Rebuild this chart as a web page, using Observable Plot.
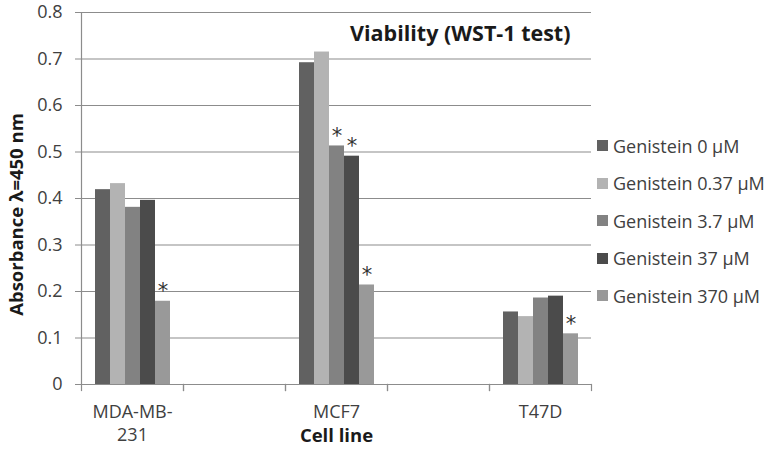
<!DOCTYPE html>
<html>
<head>
<meta charset="utf-8">
<script src="https://cdn.jsdelivr.net/npm/d3@7"></script>
<script src="https://cdn.jsdelivr.net/npm/@observablehq/plot@0.6"></script>
<style>
  body { margin: 0; background: #fff; }
  #chart { position: relative; width: 773px; height: 451px; font-family: "Open Sans", sans-serif; }
  #chart > svg { position: absolute; left: 0; top: 0; }
  #legend { position: absolute; left: 597px; top: 127px; }
  #legend .lg-swatch { height: 37.5px !important; padding: 0 !important; margin: 0 !important; display: flex; align-items: center; }
  #legend .lg-swatch svg { margin-right: 5px !important; }
</style>
</head>
<body>
<div id="chart"><div id="legend"></div></div>
<script>
// ---- data ----
const cellLines = ["MDA-MB-231", "MCF7", "T47D"];
const cellTickLabels = ["MDA-MB-\n231", "MCF7", "T47D"];
const spacers = ["gap1", "gap2"];
const concentrations = ["Genistein 0 µM", "Genistein 0.37 µM", "Genistein 3.7 µM", "Genistein 37 µM", "Genistein 370 µM"];
const mdaValues  = [0.419, 0.432, 0.381, 0.396, 0.179];
const mcf7Values = [0.692, 0.715, 0.513, 0.491, 0.214];
const t47dValues = [0.156, 0.146, 0.186, 0.190, 0.109];
const mdaSignificant  = [false, false, false, false, true];
const mcf7Significant = [false, false, true, true, true];
const t47dSignificant = [false, false, false, false, true];
const barColors = ["#616161", "#b3b3b3", "#828282", "#4b4b4b", "#999999"];
const yTicks = [0, 0.1, 0.2, 0.3, 0.4, 0.5, 0.6, 0.7, 0.8];
const yTickLabels = ["0", "0.1", "0.2", "0.3", "0.4", "0.5", "0.6", "0.7", "0.8"];
const title = "Viability (WST-1 test)";
const yLabel = "Absorbance λ=450 nm";
const xLabel = "Cell line";

// ---- tables built from arrays ----
const fxDomain = [cellLines[0], spacers[0], cellLines[1], spacers[1], cellLines[2]];
const valuesByCell = [mdaValues, mcf7Values, t47dValues];
const sigByCell = [mdaSignificant, mcf7Significant, t47dSignificant];
const rows = [];
cellLines.forEach((cell, i) => {
  concentrations.forEach((conc, j) => {
    rows.push({cell, conc, value: valuesByCell[i][j], sig: sigByCell[i][j]});
  });
});
const gridRows = [];
fxDomain.forEach(cell => yTicks.forEach(t => gridRows.push({cell, t})));
const tickLabelOf = new Map(cellLines.map((c, i) => [c, cellTickLabels[i]]));
const yLabelOf = new Map(yTicks.map((t, i) => [t, yTickLabels[i]]));

const axisGray = "#8c8c8c";
const textColor = "#404040";
const font = "'Open Sans', sans-serif";

const plot = Plot.plot({
  width: 773,
  height: 451,
  marginLeft: 81,
  marginRight: 182,
  marginTop: 12,
  marginBottom: 67,
  style: {fontFamily: font, fontSize: "18px", color: textColor, background: "transparent"},
  fx: {domain: fxDomain, padding: 0, label: null, axis: null},
  x: {domain: concentrations, paddingInner: 0, paddingOuter: 0.77, axis: null},
  y: {domain: [0, 0.8], axis: null},
  color: {domain: concentrations, range: barColors},
  marks: [
    Plot.ruleY(gridRows, {fx: "cell", y: "t", stroke: axisGray, strokeWidth: 1.2}),
    Plot.barY(rows, {fx: "cell", x: "conc", y: "value", fill: "conc"}),
    Plot.ruleY(gridRows.filter(d => d.t === 0), {fx: "cell", y: "t", stroke: axisGray, strokeWidth: 1.2}),
    Plot.frame({facetAnchor: "left", anchor: "left", stroke: axisGray, strokeWidth: 1.2}),
    Plot.axisY(yTicks, {anchor: "left", tickSize: 6, tickPadding: 13, stroke: axisGray, fill: textColor,
      tickFormat: d => yLabelOf.get(d), label: null, fontSize: 18}),
    Plot.frame({anchor: "left", insetTop: 372, insetBottom: -6, stroke: axisGray, strokeWidth: 1.2}),
    Plot.frame({anchor: "right", insetTop: 372, insetBottom: -6, stroke: axisGray, strokeWidth: 1.2}),
    Plot.axisFx({anchor: "bottom", tickSize: 0, tickPadding: 16, label: null, lineHeight: 1.33,
      tickFormat: d => tickLabelOf.get(d) ?? "", fill: textColor, fontSize: 18}),
    Plot.text(rows.filter(d => d.sig), {fx: "cell", x: "conc", y: "value", text: () => "*",
      lineAnchor: "bottom", dy: -3, fontSize: 21, fontFamily: "'DejaVu Sans', sans-serif", fill: "#333333"}),
    Plot.text([{cell: cellLines[2], label: title}], {fx: "cell", text: "label", frameAnchor: "top-right",
      textAnchor: "end", lineAnchor: "middle", dx: -21, dy: 22, fontWeight: "bold", fontSize: 21.5, fill: "#1a1a1a"}),
    Plot.text([{cell: cellLines[0], label: yLabel}], {fx: "cell", text: "label", frameAnchor: "left",
      textAnchor: "middle", rotate: -90, dx: -64, dy: 16, fontWeight: "bold", fontSize: 18.5, fill: "#1a1a1a"}),
    Plot.text([{cell: cellLines[1], label: xLabel}], {fx: "cell", text: "label", frameAnchor: "bottom",
      dy: 57, fontWeight: "bold", fontSize: 18.5, fill: "#1a1a1a"})
  ]
});
document.getElementById("chart").prepend(plot);

const legend = Plot.legend({
  color: {domain: concentrations, range: barColors},
  legend: "swatches",
  columns: 1,
  swatchSize: 11,
  className: "lg",
  style: {fontFamily: font, fontSize: "18px", color: textColor}
});
document.getElementById("legend").appendChild(legend);
</script>
</body>
</html>
